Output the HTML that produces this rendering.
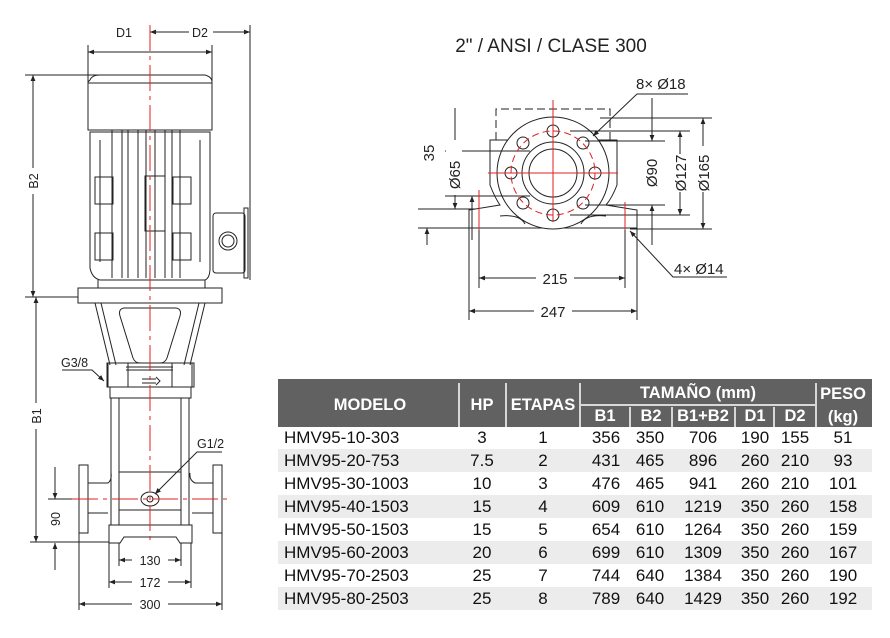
<!DOCTYPE html>
<html><head><meta charset="utf-8"><style>
body{margin:0;background:#fff;width:890px;height:638px;overflow:hidden}
svg{display:block}
text{font-family:"Liberation Sans",sans-serif}
</style></head><body>
<svg width="890" height="638" viewBox="0 0 890 638" xmlns="http://www.w3.org/2000/svg">
<defs>
<marker id="a" viewBox="0 0 10 10" refX="10" refY="5" markerWidth="8" markerHeight="6" orient="auto-start-reverse"><path d="M0,1 L10,5 L0,9z" fill="#222"/></marker>
</defs>
<g stroke="#222" stroke-width="1" fill="none">
<line x1="88" y1="45" x2="88" y2="120"/><line x1="212" y1="45" x2="212" y2="120"/>
<line x1="250" y1="25" x2="250" y2="280"/>
<line x1="150" y1="32" x2="250" y2="32" marker-start="url(#a)" marker-end="url(#a)"/>
<line x1="88" y1="52" x2="212" y2="52" marker-start="url(#a)" marker-end="url(#a)"/>
<path d="M90,80 Q92,75 100,75 L205,75 Q212,77 212,82 L212,130 L88,130 L88,82z" fill="#fff"/>
<line x1="88" y1="83" x2="212" y2="83"/>
<path d="M90,132 L90,268 Q92,278 100,280 L205,280 Q210,278 210,268 L210,132z"/>
<path d="M100,140 L100,262 M112,130 L112,278 M122,130 L122,278 M128,130 L128,278 M138,130 L138,278 M146,130 L146,278 M155,130 L155,278 M165,130 L165,278 M172,130 L172,278 M180,130 L180,278 M200,140 L200,262"/>
<rect x="95" y="177" width="18" height="27"/><rect x="95" y="233" width="18" height="27"/>
<rect x="173" y="177" width="18" height="27"/><rect x="173" y="233" width="18" height="27"/>
<rect x="145" y="176" width="20" height="55"/>
<rect x="213" y="213" width="32" height="60" rx="3"/>
<rect x="244" y="208" width="4" height="70"/>
<circle cx="228" cy="241" r="9"/><circle cx="228" cy="241" r="6"/>
<rect x="78" y="288" width="144" height="15" fill="#fff"/>
<line x1="98" y1="280" x2="98" y2="288"/><line x1="205" y1="280" x2="205" y2="288"/>
<path d="M95,303 L110,365 M101,303 L116,365 M205,303 L190,365 M199,303 L184,365"/>
<path d="M124,308 L176,308 Q182,309 180,316 L167,358 Q165,363 160,363 L140,363 Q135,363 133,358 L120,316 Q118,309 124,308z"/>
<rect x="107" y="363" width="87" height="24"/>
<rect x="110" y="387" width="81" height="11"/>
<rect x="108" y="363" width="20" height="24"/><rect x="172" y="363" width="20" height="24"/>
<line x1="126" y1="367" x2="173" y2="367"/><line x1="126" y1="370" x2="173" y2="370"/>
<path d="M142,379 L156,379 M142,383 L156,383 M156,377 L160,381 L156,385"/>
<line x1="111" y1="398" x2="111" y2="525"/><line x1="119" y1="398" x2="119" y2="525"/>
<line x1="181" y1="398" x2="181" y2="525"/><line x1="189" y1="398" x2="189" y2="525"/>
<line x1="119" y1="472" x2="181" y2="472"/><line x1="119" y1="510" x2="181" y2="510"/>
<path d="M88,483 L108,483 Q112,480 111,473 M88,513 L108,513 M213,483 L195,483 Q189,480 190,473 M213,513 L192,513"/>
<rect x="79" y="465" width="9" height="68"/><rect x="213" y="465" width="9" height="68"/>
<ellipse cx="150" cy="499" rx="9" ry="7"/><circle cx="150" cy="499" r="3"/>
<path d="M109,525 L192,525 L192,543 L180,543 L176,537 L124,537 L120,543 L109,543z"/>
<line x1="25" y1="75" x2="100" y2="75"/><line x1="25" y1="297" x2="78" y2="297"/>
<line x1="33" y1="75" x2="33" y2="297" marker-start="url(#a)" marker-end="url(#a)"/>
<line x1="30" y1="542" x2="109" y2="542"/>
<line x1="36" y1="297" x2="36" y2="542" marker-start="url(#a)" marker-end="url(#a)"/>
<line x1="48" y1="499" x2="78" y2="499"/>
<line x1="55" y1="467" x2="55" y2="499" marker-end="url(#a)"/>
<line x1="55" y1="570" x2="55" y2="543" marker-end="url(#a)"/>
<line x1="119" y1="543" x2="119" y2="566"/><line x1="181" y1="543" x2="181" y2="566"/>
<line x1="109" y1="543" x2="109" y2="588"/><line x1="191" y1="543" x2="191" y2="588"/>
<line x1="79" y1="533" x2="79" y2="610"/><line x1="222" y1="533" x2="222" y2="610"/>
<line x1="119" y1="560" x2="181" y2="560" marker-start="url(#a)" marker-end="url(#a)"/>
<line x1="109" y1="582" x2="191" y2="582" marker-start="url(#a)" marker-end="url(#a)"/>
<line x1="79" y1="604" x2="222" y2="604" marker-start="url(#a)" marker-end="url(#a)"/>
<path d="M62,370 L92,370 L104,381" marker-end="url(#a)"/>
<path d="M222,452 L197,452 L155,494" marker-end="url(#a)"/>
</g>
<g fill="#fff">
<rect x="113" y="26" width="22" height="12"/><rect x="189" y="26" width="24" height="12"/>
<rect x="27" y="168" width="12" height="26"/><rect x="30" y="403" width="12" height="26"/>
<rect x="49" y="506" width="12" height="26"/>
<rect x="132" y="554" width="36" height="12"/><rect x="132" y="576" width="36" height="12"/><rect x="132" y="598" width="36" height="12"/>
</g>
<g stroke="#e02020" stroke-width="1" fill="none" stroke-dasharray="26,5,4,5">
<line x1="150" y1="25" x2="150" y2="540"/>
<line x1="72" y1="499" x2="228" y2="499"/>
</g>
<g font-size="12.5" fill="#222">
<text x="116" y="37">D1</text><text x="192" y="37">D2</text>
<text transform="translate(38,181) rotate(-90)" text-anchor="middle">B2</text>
<text transform="translate(41,416) rotate(-90)" text-anchor="middle">B1</text>
<text transform="translate(60,519) rotate(-90)" text-anchor="middle">90</text>
<text x="150" y="565" text-anchor="middle">130</text>
<text x="150" y="587" text-anchor="middle">172</text>
<text x="150" y="609" text-anchor="middle">300</text>
<text x="61" y="367">G3/8</text><text x="197" y="448">G1/2</text>
</g>

<text x="551" y="52" font-size="19" text-anchor="middle" fill="#222">2" / ANSI / CLASE 300</text>
<g stroke="#222" stroke-width="1" fill="none">
<path d="M496,140 L496,109 L610,109 L610,140" stroke-dasharray="8,4"/>
<path d="M490,140 L490,185 Q495,198 500,205 L469,210 L469,228 L637,228 L637,210 L606,205 Q612,198 617,185 L617,140z" fill="#fff"/>
<path d="M500,216 Q520,214 525,224 M606,216 Q586,214 581,224"/>
<circle cx="553" cy="173" r="56" fill="#fff"/>
<circle cx="553" cy="173" r="31"/>
<circle cx="553" cy="173" r="24"/>
<circle cx="553" cy="131" r="6"/><circle cx="553" cy="215" r="6"/>
<circle cx="511" cy="173" r="6"/><circle cx="595" cy="173" r="6"/>
<circle cx="523" cy="143" r="6"/><circle cx="583" cy="143" r="6"/>
<circle cx="523" cy="203" r="6"/><circle cx="583" cy="203" r="6"/>
<line x1="445" y1="151" x2="530" y2="151"/><line x1="445" y1="196" x2="530" y2="196"/>
<line x1="418" y1="209" x2="475" y2="209"/><line x1="418" y1="228" x2="469" y2="228"/>
<line x1="455" y1="108" x2="455" y2="151" marker-end="url(#a)"/>
<line x1="455" y1="195" x2="455" y2="209" marker-end="url(#a)"/>
<line x1="427" y1="245" x2="427" y2="228" marker-end="url(#a)"/>
<line x1="472" y1="240" x2="472" y2="196" marker-end="url(#a)"/>
<line x1="600" y1="118" x2="712" y2="118"/><line x1="570" y1="131" x2="690" y2="131"/>
<line x1="585" y1="141" x2="665" y2="141"/><line x1="585" y1="205" x2="665" y2="205"/>
<line x1="570" y1="215" x2="690" y2="215"/><line x1="630" y1="229" x2="712" y2="229"/>
<line x1="652" y1="98" x2="652" y2="141" marker-end="url(#a)"/>
<line x1="652" y1="245" x2="652" y2="205" marker-end="url(#a)"/>
<line x1="680" y1="131" x2="680" y2="215" marker-start="url(#a)" marker-end="url(#a)"/>
<line x1="703" y1="118" x2="703" y2="229" marker-start="url(#a)" marker-end="url(#a)"/>
<line x1="479" y1="190" x2="479" y2="288"/><line x1="625" y1="210" x2="625" y2="288"/>
<line x1="469" y1="228" x2="469" y2="320"/><line x1="637" y1="228" x2="637" y2="320"/>
<line x1="479" y1="278" x2="625" y2="278" marker-start="url(#a)" marker-end="url(#a)"/>
<line x1="469" y1="311" x2="637" y2="311" marker-start="url(#a)" marker-end="url(#a)"/>
<path d="M688,94 L637,94 L593,136" marker-end="url(#a)"/>
<path d="M727,277 L673,277 L630,231" marker-end="url(#a)"/>
</g>
<g fill="#fff">
<rect x="536" y="270" width="38" height="16"/><rect x="534" y="303" width="38" height="16"/>
<rect x="674" y="154" width="14" height="38"/><rect x="696" y="146" width="14" height="46"/>
<rect x="446" y="140" width="16" height="24"/>
</g>
<g stroke="#e02020" stroke-width="1" fill="none">
<line x1="553" y1="100" x2="553" y2="222"/><line x1="488" y1="173" x2="618" y2="173"/>
<circle cx="553" cy="173" r="42" stroke-dasharray="7,4"/>
<line x1="479" y1="190" x2="479" y2="230"/><line x1="625" y1="202" x2="625" y2="230"/>
</g>
<g font-size="15" fill="#222">
<text x="636" y="89">8× Ø18</text>
<text x="674" y="274">4× Ø14</text>
<text x="555" y="284" text-anchor="middle">215</text>
<text x="553" y="317" text-anchor="middle">247</text>
<text transform="translate(434,153) rotate(-90)" text-anchor="middle">35</text>
<text transform="translate(460,175) rotate(-90)" text-anchor="middle">Ø65</text>
<text transform="translate(657,173) rotate(-90)" text-anchor="middle">Ø90</text>
<text transform="translate(686,173) rotate(-90)" text-anchor="middle">Ø127</text>
<text transform="translate(709,173) rotate(-90)" text-anchor="middle">Ø165</text>
</g>

<rect x="278" y="379" width="594" height="48" fill="#616161"/>
<g fill="#ececec">
<rect x="278" y="449" width="594" height="23"/><rect x="278" y="495" width="594" height="23"/>
<rect x="278" y="541" width="594" height="23"/><rect x="278" y="587" width="594" height="23"/>
</g>
<g stroke="#fff" stroke-width="1.5">
<line x1="459" y1="383" x2="459" y2="427"/><line x1="506" y1="383" x2="506" y2="427"/>
<line x1="580" y1="383" x2="580" y2="427"/><line x1="816" y1="383" x2="816" y2="427"/>
<line x1="581" y1="405" x2="815" y2="405"/>
<line x1="630" y1="407" x2="630" y2="427"/><line x1="672" y1="407" x2="672" y2="427"/>
<line x1="735" y1="407" x2="735" y2="427"/><line x1="774" y1="407" x2="774" y2="427"/>
</g>
<g font-size="16.5" font-weight="bold" fill="#fff" text-anchor="middle">
<text x="370" y="410">MODELO</text><text x="482" y="410">HP</text><text x="543" y="410">ETAPAS</text>
<text x="698" y="398">TAMAÑO (mm)</text><text x="843" y="399">PESO</text><text x="843" y="422">(kg)</text>
<text x="605" y="421">B1</text><text x="651" y="421">B2</text><text x="703" y="421">B1+B2</text><text x="755" y="421">D1</text><text x="795" y="421">D2</text>
</g>
<g font-size="17" fill="#111" text-anchor="middle">
<g text-anchor="start">
<text x="284" y="443">HMV95-10-303</text><text x="284" y="466">HMV95-20-753</text><text x="284" y="489">HMV95-30-1003</text><text x="284" y="512">HMV95-40-1503</text>
<text x="284" y="535">HMV95-50-1503</text><text x="284" y="558">HMV95-60-2003</text><text x="284" y="581">HMV95-70-2503</text><text x="284" y="604">HMV95-80-2503</text>
</g>
<text x="482" y="443">3</text><text x="482" y="466">7.5</text><text x="482" y="489">10</text><text x="482" y="512">15</text><text x="482" y="535">15</text><text x="482" y="558">20</text><text x="482" y="581">25</text><text x="482" y="604">25</text>
<text x="543" y="443">1</text><text x="543" y="466">2</text><text x="543" y="489">3</text><text x="543" y="512">4</text><text x="543" y="535">5</text><text x="543" y="558">6</text><text x="543" y="581">7</text><text x="543" y="604">8</text>
<text x="606" y="443">356</text><text x="606" y="466">431</text><text x="606" y="489">476</text><text x="606" y="512">609</text><text x="606" y="535">654</text><text x="606" y="558">699</text><text x="606" y="581">744</text><text x="606" y="604">789</text>
<text x="650" y="443">350</text><text x="650" y="466">465</text><text x="650" y="489">465</text><text x="650" y="512">610</text><text x="650" y="535">610</text><text x="650" y="558">610</text><text x="650" y="581">640</text><text x="650" y="604">640</text>
<text x="703" y="443">706</text><text x="703" y="466">896</text><text x="703" y="489">941</text><text x="703" y="512">1219</text><text x="703" y="535">1264</text><text x="703" y="558">1309</text><text x="703" y="581">1384</text><text x="703" y="604">1429</text>
<text x="755" y="443">190</text><text x="755" y="466">260</text><text x="755" y="489">260</text><text x="755" y="512">350</text><text x="755" y="535">350</text><text x="755" y="558">350</text><text x="755" y="581">350</text><text x="755" y="604">350</text>
<text x="795" y="443">155</text><text x="795" y="466">210</text><text x="795" y="489">210</text><text x="795" y="512">260</text><text x="795" y="535">260</text><text x="795" y="558">260</text><text x="795" y="581">260</text><text x="795" y="604">260</text>
<text x="843" y="443">51</text><text x="843" y="466">93</text><text x="843" y="489">101</text><text x="843" y="512">158</text><text x="843" y="535">159</text><text x="843" y="558">167</text><text x="843" y="581">190</text><text x="843" y="604">192</text>
</g>
</svg>
</body></html>
